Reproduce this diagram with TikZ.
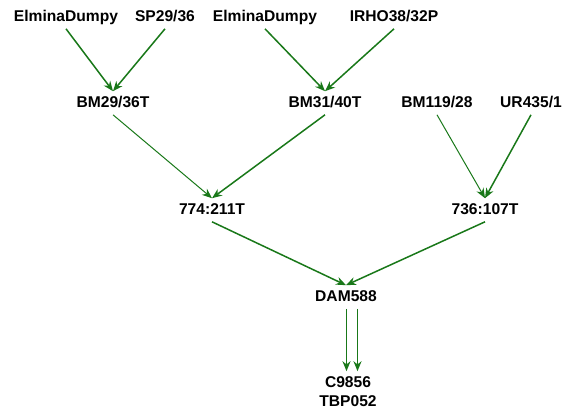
\documentclass[tikz,border=0pt]{standalone}
\usepackage{fontspec}
\setmainfont{Liberation Sans}
\usepackage{tikz}
\usetikzlibrary{positioning,arrows.meta}
\definecolor{linkgreen}{RGB}{25,120,25}

\begin{document}
\begin{tikzpicture}[x=0.5pt, y=-0.5pt,
  every node/.style={font=\fontsize{7.8}{9}\selectfont\bfseries, inner sep=2pt,
    text height=5.8pt, text depth=1.6pt},
  link/.style={draw=linkgreen, line width=0.75pt, -{Stealth[length=5pt, width=4pt]}},
  thinlink/.style={link, line width=0.5pt}]
\useasboundingbox (0,0) rectangle (566,413);
\node (E1) at (66,17) {ElminaDumpy};
\node (SP) at (165,17) {SP29/36};
\node (E2) at (265,17) {ElminaDumpy};
\node (IRHO) at (394,17) {IRHO38/32P};
\node (BM29) at (113,103) {BM29/36T};
\node (BM31) at (325,103) {BM31/40T};
\node (BM119) at (437,103) {BM119/28};
\node (UR) at (531,103) {UR435/1};
\node (T774) at (212,210) {774:211T};
\node (T736) at (485,210) {736:107T};
\node (DAM) at (346,297) {DAM588};
\node (C) at (348,383) {C9856};
\node (TBP) at (348,402) {TBP052};

\draw
	(E1.south) edge[link] (BM29.north)
	(SP.south) edge[link] (BM29.north)
	(E2.south) edge[link] (BM31.north)
	(IRHO.south) edge[link] (BM31.north)
	(BM29.south) edge[thinlink] (T774.north)
	(BM31.south) edge[link] (T774.north)
	(BM119.south) edge[thinlink] (T736.north)
	(UR.south) edge[link] (T736.north)
	(T774.south) edge[link] (DAM.north)
	(T736.south) edge[link] (DAM.north)
	([xshift=0.25pt]DAM.south) edge[link] ([xshift=-0.75pt]C.north)
	([xshift=5.75pt]DAM.south) edge[link] ([xshift=4.75pt]C.north)
;
\end{tikzpicture}
\end{document}
